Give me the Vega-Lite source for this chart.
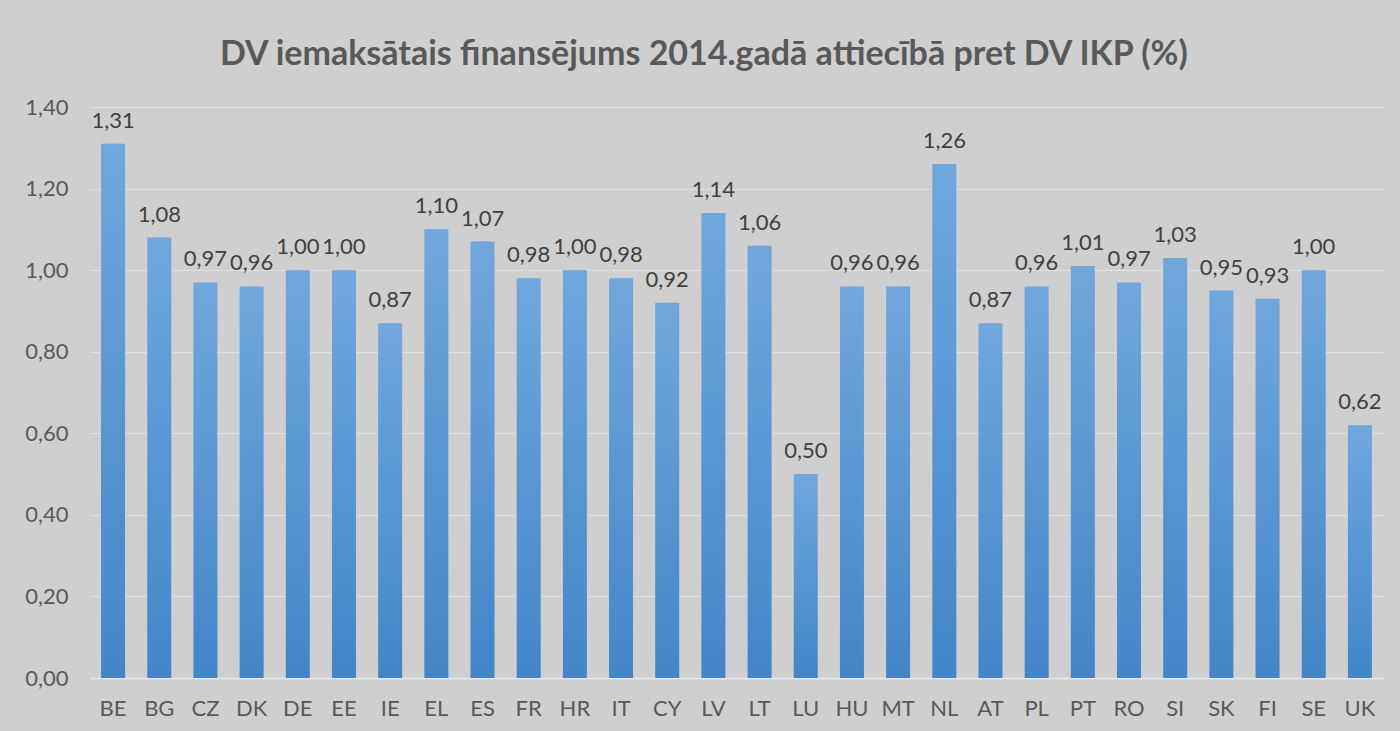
{
  "$schema": "https://vega.github.io/schema/vega-lite/v6.json",
  "autosize": {"type": "none"},
  "width": 1293,
  "height": 571,
  "padding": {"left": 90, "top": 107, "right": 17, "bottom": 53},
  "background": "#d0cfcf",
  "title": {
    "text": "DV iemaksātais finansējums 2014.gadā attiecībā pret DV IKP (%)",
    "font": "Lato",
    "fontSize": 34,
    "fontWeight": "bold",
    "color": "#595959",
    "anchor": "middle",
    "frame": "bounds",
    "offset": 24
  },
  "config": {
    "locale": {"number": {"decimal": ",", "thousands": " ", "grouping": [3], "currency": ["", " €"]}},
    "view": {"stroke": null},
    "axis": {"labelFont": "Lato", "labelFontSize": 22, "labelColor": "#595959", "ticks": false, "title": null}
  },
  "data": {
    "values": [
      {"valsts": "BE", "v": 1.31}, {"valsts": "BG", "v": 1.08}, {"valsts": "CZ", "v": 0.97},
      {"valsts": "DK", "v": 0.96}, {"valsts": "DE", "v": 1.00}, {"valsts": "EE", "v": 1.00},
      {"valsts": "IE", "v": 0.87}, {"valsts": "EL", "v": 1.10}, {"valsts": "ES", "v": 1.07},
      {"valsts": "FR", "v": 0.98}, {"valsts": "HR", "v": 1.00}, {"valsts": "IT", "v": 0.98},
      {"valsts": "CY", "v": 0.92}, {"valsts": "LV", "v": 1.14}, {"valsts": "LT", "v": 1.06},
      {"valsts": "LU", "v": 0.50}, {"valsts": "HU", "v": 0.96}, {"valsts": "MT", "v": 0.96},
      {"valsts": "NL", "v": 1.26}, {"valsts": "AT", "v": 0.87}, {"valsts": "PL", "v": 0.96},
      {"valsts": "PT", "v": 1.01}, {"valsts": "RO", "v": 0.97}, {"valsts": "SI", "v": 1.03},
      {"valsts": "SK", "v": 0.95}, {"valsts": "FI", "v": 0.93}, {"valsts": "SE", "v": 1.00},
      {"valsts": "UK", "v": 0.62}
    ]
  },
  "encoding": {
    "x": {
      "field": "valsts", "type": "nominal", "sort": null,
      "scale": {"paddingInner": 0.48, "paddingOuter": 0.24},
      "axis": {"labelAngle": 0, "labelPadding": 20, "domainColor": "#e6e5e5", "domainWidth": 2, "grid": false}
    },
    "y": {
      "field": "v", "type": "quantitative",
      "scale": {"domain": [0, 1.4], "nice": false},
      "axis": {"values": [0, 0.2, 0.4, 0.6, 0.8, 1.0, 1.2, 1.4], "format": ".2f", "labelPadding": 22, "domain": false, "gridColor": "#e2e1e1", "gridWidth": 1}
    }
  },
  "layer": [
    {"mark": {"type": "bar", "color": "#8a8a8a", "opacity": 0.18, "width": {"band": 0.72}}},
    {"mark": {"type": "bar", "color": "#8a8a8a", "opacity": 0.25, "width": {"band": 0.62}}},
    {
      "mark": {
        "type": "bar",
        "width": {"band": 1},
        "color": {
          "gradient": "linear", "x1": 0, "y1": 0, "x2": 0, "y2": 1,
          "stops": [{"offset": 0, "color": "#70a7dd"}, {"offset": 1, "color": "#4286c8"}]
        }
      }
    },
    {
      "mark": {"type": "text", "font": "Lato", "fontSize": 22, "color": "#404040", "baseline": "alphabetic", "dy": -16},
      "encoding": {"text": {"field": "v", "type": "quantitative", "format": ".2f"}}
    }
  ]
}
